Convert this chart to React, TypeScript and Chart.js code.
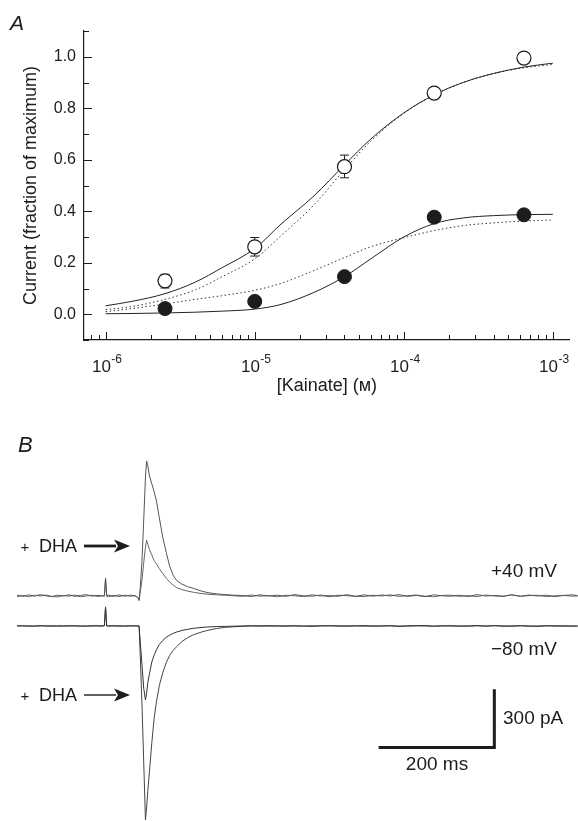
import React, { useEffect, useRef } from 'react';
import { Chart, registerables } from 'chart.js';

Chart.register(...registerables);

// ---------- Panel A data ----------
const concentrations = [2.5e-6, 1e-5, 4e-5, 1.6e-4, 6.4e-4];
const openMean = [0.13, 0.262, 0.573, 0.859, 0.995];
const openErrLow = [0.102, 0.226, 0.53, 0.845, 0.995];
const openErrHigh = [0.155, 0.298, 0.618, 0.881, 0.995];
const filledMean = [0.022, 0.05, 0.146, 0.377, 0.386];
const filledErrLow = [0.022, 0.05, 0.146, 0.377, 0.364];
const filledErrHigh = [0.022, 0.05, 0.146, 0.377, 0.405];

const fitConc = [1e-6, 1.5e-6, 2.5e-6, 4e-6, 6e-6, 1e-5, 1.5e-5, 2.5e-5, 4e-5, 6e-5, 1e-4, 1.6e-4, 2.5e-4, 4e-4, 6.4e-4, 1e-3];
const openFitSolid = [0.033, 0.05, 0.08, 0.125, 0.18, 0.255, 0.35, 0.46, 0.58, 0.68, 0.782, 0.852, 0.9, 0.935, 0.96, 0.975];
const openFitDotted = [0.018, 0.03, 0.058, 0.095, 0.145, 0.215, 0.305, 0.425, 0.562, 0.672, 0.78, 0.852, 0.9, 0.935, 0.957, 0.97];
const filledFitSolid = [0.002, 0.003, 0.005, 0.008, 0.012, 0.02, 0.038, 0.085, 0.146, 0.215, 0.3, 0.352, 0.374, 0.383, 0.387, 0.388];
const filledFitDotted = [0.01, 0.022, 0.04, 0.058, 0.072, 0.093, 0.12, 0.17, 0.22, 0.262, 0.297, 0.325, 0.344, 0.355, 0.362, 0.366];

const xTickDecades = [1e-6, 1e-5, 1e-4, 1e-3];
const xTickExponents = ['-6', '-5', '-4', '-3'];
const yTickLabels = [0, 0.2, 0.4, 0.6, 0.8, 1.0];

// ---------- Panel B data (time in ms, current in pA) ----------
const timeMs = [
  0, 10, 20, 30, 40, 50, 60, 70, 80, 90, 100, 110, 120, 130, 140,
  148, 151, 153, 155, 158, 166, 176, 186, 196, 204, 209,
  211, 213, 216, 219, 222, 224, 226, 229, 233, 237, 241, 246, 252, 258, 264, 270, 276, 285, 295, 305, 318, 330, 345, 360, 375,
  390, 405, 420, 435, 450, 465, 480, 495, 510, 525, 540, 555, 570, 585, 600, 615, 630, 645, 660, 675, 690, 705, 720, 735, 750,
  765, 780, 795, 810, 825, 840, 855, 870, 885, 900, 915, 930, 945, 960, 969,
];
const pos40Control = [
  4, -3, 5, -2, 6, 0, -4, 3, -1, 5, -3, 2, 6, -2, 3,
  -2, 3, 92, 0, 4, -3, 5, -2, 4, -1, -8,
  -22, 40, 180, 390, 610, 693, 668, 615, 575, 535, 488, 400, 300, 222, 150, 105, 78, 60, 47, 38, 25, 16, 10, 6, 3,
  2, -4, 5, -1, 3, -3, 6, 0, -2, 4, -5, 3, 1, -3, 5, -2, 4, -1, 6, -3, 2, -4, 5, 0, -2,
  3, -4, 6, -1, 2, -3, 5, -2, 4, -1, 3, -4, 2, 5, 0,
];
const pos40Dha = [
  -4, 2, -5, 3, -1, 4, -3, -6, 2, -2, 4, -5, -1, 3, -4,
  2, -3, 88, -2, -5, 2, -4, 3, -3, 2, -10,
  -25, 20, 80, 170, 250, 286, 265, 238, 210, 180, 164, 140, 114, 90, 70, 55, 42, 32, 24, 18, 12, 8, 5, 3, 0,
  -3, 4, -2, 1, -5, 3, 0, -4, 5, -1, 2, -3, 6, -2, -4, 3, -1, 5, -3, 1, 4, -2, -5, 2, 3,
  -3, 1, -4, 4, -1, -2, 5, -3, 1, 3, -4, 0, 2, -2, 0,
];
const neg80Dha = [
  0, 1, -1, 0, 1, 0, -1, 1, 0, 0, 1, -1, 0, 1, 0,
  0, 2, 98, 0, 0, 1, -1, 0, 1, 0, 0,
  0, -80, -200, -320, -380, -345, -292, -245, -185, -150, -122, -95, -74, -58, -47, -38, -31, -23, -17, -12, -8, -5, -3, -2, -1,
  0, 1, -1, 2, 0, -1, 1, 0, -2, 1, 0, 1, -1, 0, 2, -1, 0, 1, -1, 0, 1, 2, -1, 0, 1,
  -1, 0, 2, -1, 1, 0, -1, 1, 0, -2, 1, 0, 1, -1, 0,
];
const neg80Control = [
  1, 0, 0, -1, 1, 0, 1, -1, 0, 1, 0, 0, -1, 0, 1,
  0, 1, 95, 1, 0, 0, 1, -1, 0, 1, 0,
  0, -150, -400, -700, -997, -930, -850, -745, -600, -475, -390, -305, -240, -188, -150, -125, -106, -80, -60, -45, -32, -22, -13, -7, -4,
  -2, 0, 1, -1, 0, 1, 0, -1, 1, 0, 2, -1, 0, 1, -1, 0, 0, 1, -2, 0, 1, 0, -1, 1, 0,
  0, -1, 1, 0, 2, -1, 0, 1, -1, 0, 1, 0, -1, 0, 0,
];
const OFFSET_POS40 = 155; // vertical offset of the +40 mV pair (pA)
const SCALE_T0 = 625;
const SCALE_T_LEN = 200; // ms
const SCALE_V0 = -625;
const SCALE_V_LEN = 300; // pA

// ---------- styling ----------
const FAMILY = "'Liberation Sans', Arial, Helvetica, sans-serif";
const INK = '#1c1c1c';

const panelADecor = {
  id: 'panelADecor',
  beforeDatasetsDraw(chart: any) {
    const { ctx, scales } = chart;
    const x = scales.x, y = scales.y;
    ctx.save();
    ctx.strokeStyle = INK;
    ctx.lineWidth = 1;
    const bars = (lo: number[], hi: number[]) => {
      concentrations.forEach((c, i) => {
        const px = x.getPixelForValue(c);
        const y1 = y.getPixelForValue(lo[i]);
        const y2 = y.getPixelForValue(hi[i]);
        if (Math.abs(y1 - y2) < 1) return;
        ctx.beginPath();
        ctx.moveTo(px, y1); ctx.lineTo(px, y2);
        ctx.moveTo(px - 4.5, y1); ctx.lineTo(px + 4.5, y1);
        ctx.moveTo(px - 4.5, y2); ctx.lineTo(px + 4.5, y2);
        ctx.stroke();
      });
    };
    bars(openErrLow, openErrHigh);
    bars(filledErrLow, filledErrHigh);
    ctx.restore();
  },
  afterDraw(chart: any) {
    const { ctx, scales, chartArea } = chart;
    const x = scales.x, y = scales.y;
    ctx.save();
    ctx.strokeStyle = INK;
    ctx.lineWidth = 1;
    ctx.beginPath();
    for (let i = -1; i <= 11; i++) {
      const py = Math.round(y.getPixelForValue(i / 10)) + 0.5;
      const len = i % 2 === 0 ? 8 : 5;
      ctx.moveTo(chartArea.left, py);
      ctx.lineTo(chartArea.left + len, py);
    }
    for (let e = -7; e <= -3; e++) {
      for (let m = 1; m <= 9; m++) {
        const v = m * Math.pow(10, e);
        if (v < x.min || v > x.max) continue;
        const px = Math.round(x.getPixelForValue(v)) + 0.5;
        const len = m === 1 ? 8 : 5;
        ctx.moveTo(px, chartArea.bottom);
        ctx.lineTo(px, chartArea.bottom - len);
      }
    }
    ctx.stroke();

    // decade labels with real superscripts, placed through the x scale
    ctx.fillStyle = INK;
    ctx.textBaseline = 'alphabetic';
    xTickDecades.forEach((v, i) => {
      const px = x.getPixelForValue(v);
      ctx.font = `17px ${FAMILY}`;
      const wBase = ctx.measureText('10').width;
      ctx.font = `12px ${FAMILY}`;
      const wSup = ctx.measureText(xTickExponents[i]).width;
      const left = px - (wBase + wSup) / 2 + 1;
      ctx.textAlign = 'left';
      ctx.font = `17px ${FAMILY}`;
      ctx.fillText('10', left, chartArea.bottom + 32);
      ctx.font = `12px ${FAMILY}`;
      ctx.fillText(xTickExponents[i], left + wBase + 0.5, chartArea.bottom + 23);
    });

    ctx.font = `italic 21px ${FAMILY}`;
    ctx.textAlign = 'left';
    ctx.fillText('A', 10, 30);
    ctx.restore();
  },
};

function drawArrow(ctx: CanvasRenderingContext2D, x1: number, x2: number, y: number, w: number, head: number, half: number) {
  ctx.lineWidth = w;
  ctx.beginPath();
  ctx.moveTo(x1, y);
  ctx.lineTo(x2 - head + 2, y);
  ctx.stroke();
  ctx.beginPath();
  ctx.moveTo(x2, y);
  ctx.lineTo(x2 - head, y - half);
  ctx.lineTo(x2 - head + 4, y);
  ctx.lineTo(x2 - head, y + half);
  ctx.closePath();
  ctx.fill();
}

const panelBDecor = {
  id: 'panelBDecor',
  afterDraw(chart: any) {
    const { ctx, scales } = chart;
    const xs = scales.x, ys = scales.y;
    ctx.save();
    ctx.fillStyle = INK;
    ctx.strokeStyle = INK;
    ctx.textAlign = 'left';
    ctx.textBaseline = 'alphabetic';
    ctx.font = `italic 22px ${FAMILY}`;
    ctx.fillText('B', 18, 52);

    ctx.textBaseline = 'middle';
    ctx.font = `19px ${FAMILY}`;
    ctx.fillText('+40 mV', 491, 172);
    ctx.fillText('\u221280 mV', 491, 250);
    ctx.fillText('300 pA', 503, 319);
    ctx.textAlign = 'center';
    ctx.fillText('200 ms', 437, 365);

    const dha = (yc: number, w: number) => {
      ctx.textAlign = 'center';
      ctx.font = `15px ${FAMILY}`;
      ctx.fillText('+', 25, yc + 1);
      ctx.textAlign = 'left';
      ctx.font = `18px ${FAMILY}`;
      ctx.fillText('DHA', 39, yc);
      drawArrow(ctx, 84, 130, yc - 1, w, 16, 6.5);
    };
    dha(147, 2.8);
    dha(296, 1.4);

    const x0 = xs.getPixelForValue(SCALE_T0);
    const x1 = xs.getPixelForValue(SCALE_T0 + SCALE_T_LEN);
    const y0 = ys.getPixelForValue(SCALE_V0);
    const y1 = ys.getPixelForValue(SCALE_V0 + SCALE_V_LEN);
    ctx.lineWidth = 3;
    ctx.lineJoin = 'miter';
    ctx.beginPath();
    ctx.moveTo(x0, y0);
    ctx.lineTo(x1, y0);
    ctx.lineTo(x1, y1);
    ctx.stroke();
    ctx.restore();
  },
};

const pts = (xs: number[], ys: number[], off = 0) => xs.map((x, i) => ({ x, y: ys[i] + off }));

export default function App() {
  const refA = useRef<HTMLCanvasElement>(null);
  const refB = useRef<HTMLCanvasElement>(null);

  useEffect(() => {
    const curve = (data: number[], dashed: boolean) => ({
      data: pts(fitConc, data),
      showLine: true,
      borderColor: dashed ? '#333' : '#222',
      borderWidth: 1,
      borderDash: dashed ? [1.5, 2.5] : [],
      pointRadius: 0,
      cubicInterpolationMode: 'monotone' as const,
      fill: false,
    });
    const chartA = new Chart(refA.current as HTMLCanvasElement, {
      type: 'scatter',
      data: {
        datasets: [
          {
            data: pts(concentrations, openMean),
            pointRadius: 7,
            pointBackgroundColor: '#fff',
            pointBorderColor: INK,
            pointBorderWidth: 1.2,
            showLine: false,
          },
          {
            data: pts(concentrations, filledMean),
            pointRadius: 7,
            pointBackgroundColor: INK,
            pointBorderColor: INK,
            pointBorderWidth: 1,
            showLine: false,
          },
          curve(openFitSolid, false),
          curve(openFitDotted, true),
          curve(filledFitSolid, false),
          curve(filledFitDotted, true),
        ] as any,
      },
      options: {
        responsive: false,
        animation: false,
        layout: { padding: { left: 0, right: 0, top: 31, bottom: 0 } },
        plugins: { legend: { display: false }, tooltip: { enabled: false } },
        scales: {
          x: {
            type: 'logarithmic',
            min: 7.15e-7,
            max: 1.3e-3,
            afterBuildTicks: (s: any) => { s.ticks = xTickDecades.map((v) => ({ value: v })); },
            afterFit: (s: any) => { s.height = 60; s.paddingLeft = 0; s.paddingRight = 0; },
            grid: { display: false, drawTicks: false },
            border: { display: true, color: INK, width: 1.2 },
            ticks: { display: false },
            title: {
              display: true,
              text: '[Kainate] (\u1D0D)',
              color: INK,
              font: { family: FAMILY, size: 18 },
              padding: { top: 0, bottom: 3 },
            },
          },
          y: {
            min: -0.1,
            max: 1.1,
            afterBuildTicks: (s: any) => { s.ticks = yTickLabels.map((v) => ({ value: v })); },
            afterFit: (s: any) => { s.width = 84; s.paddingTop = 0; s.paddingBottom = 0; },
            grid: { display: false, drawTicks: false },
            border: { display: true, color: INK, width: 1.2 },
            ticks: {
              padding: 8,
              color: INK,
              font: { family: FAMILY, size: 16 },
              callback: (v: any) => Number(v).toFixed(1),
            },
            title: {
              display: true,
              text: 'Current (fraction of maximum)',
              color: INK,
              font: { family: FAMILY, size: 18 },
              padding: { top: 20, bottom: 0 },
            },
          },
        },
      } as any,
      plugins: [panelADecor],
    });

    const trace = (vals: number[], color: string, off: number) => ({
      data: pts(timeMs, vals, off),
      showLine: true,
      borderColor: color,
      borderWidth: 1,
      pointRadius: 0,
      tension: 0,
      fill: false,
    });
    const chartB = new Chart(refB.current as HTMLCanvasElement, {
      type: 'scatter',
      data: {
        datasets: [
          trace(pos40Control, '#555', OFFSET_POS40),
          trace(pos40Dha, '#666', OFFSET_POS40),
          trace(neg80Dha, '#333', 0),
          trace(neg80Control, '#444', 0),
        ] as any,
      },
      options: {
        responsive: false,
        animation: false,
        layout: { padding: 0 },
        plugins: { legend: { display: false }, tooltip: { enabled: false } },
        scales: {
          x: { type: 'linear', display: false, min: -29.4, max: 969.6 },
          y: { type: 'linear', display: false, min: -1002, max: 1161 },
        },
      } as any,
      plugins: [panelBDecor],
    });

    return () => {
      chartA.destroy();
      chartB.destroy();
    };
  }, []);

  return (
    <div style={{ position: 'absolute', left: 0, top: 0, width: 578, height: 821, background: '#fff' }}>
      <canvas
        ref={refA}
        width={578}
        height={400}
        style={{ position: 'absolute', left: 0, top: 0, width: 578, height: 400 }}
      />
      <canvas
        ref={refB}
        width={578}
        height={421}
        style={{ position: 'absolute', left: 0, top: 400, width: 578, height: 421 }}
      />
    </div>
  );
}
